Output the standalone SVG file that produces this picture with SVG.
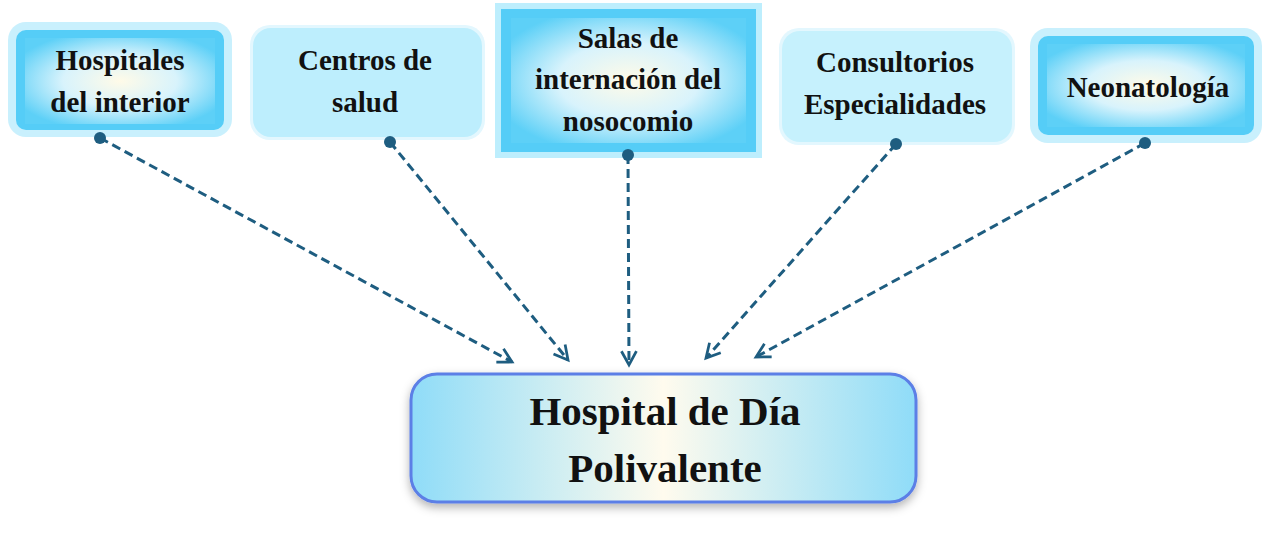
<svg xmlns="http://www.w3.org/2000/svg" width="1271" height="535" viewBox="0 0 1271 535">
<style>
text{font-family:"Liberation Serif","DejaVu Serif",serif;font-weight:bold;fill:#111;text-anchor:middle}
.s{font-size:29px}
.b{font-size:41px}
.c{fill:none;stroke:#1e5d80;stroke-width:3;stroke-dasharray:9 5}
</style>
<defs>
<radialGradient id="g" cx="0.5" cy="0.5" r="0.6">
<stop offset="0" stop-color="#fffbe8"/><stop offset="0.5" stop-color="#d8f3fc"/><stop offset="1" stop-color="#5dd0f7"/>
</radialGradient>
<linearGradient id="gm" x1="0" x2="1" y1="0" y2="0">
<stop offset="0" stop-color="#8fdcf8"/><stop offset="0.5" stop-color="#fffbee"/><stop offset="1" stop-color="#8fdcf8"/>
</linearGradient>
<filter id="sh" x="-10%" y="-10%" width="120%" height="130%"><feDropShadow dx="0" dy="4" stdDeviation="5" flood-color="#000" flood-opacity="0.3"/></filter>
<marker id="a" viewBox="0 0 12 12" refX="11" refY="6" markerWidth="15" markerHeight="15" orient="auto" markerUnits="userSpaceOnUse" overflow="visible">
<path d="M0,0 L11,6 L0,12" fill="none" stroke="#1e5d80" stroke-width="2.2"/>
</marker>
<marker id="d" viewBox="0 0 10 10" refX="5" refY="5" markerWidth="12" markerHeight="12" markerUnits="userSpaceOnUse"><circle cx="5" cy="5" r="5" fill="#1e5d80"/></marker>
</defs>
<g id="n1">
<rect x="8" y="22" width="224" height="115" rx="18" fill="#c9f0fd"/>
<rect x="16" y="30" width="208" height="100" rx="10" fill="#55cdf7"/>
<rect x="25" y="38" width="190" height="86" fill="url(#g)"/>
<text class="s" x="120" y="70">Hospitales</text><text class="s" x="120" y="112">del interior</text>
</g>
<g id="n2">
<rect x="250" y="25" width="235" height="115" rx="20" fill="#e3f7fe"/>
<rect x="253" y="28" width="229" height="109" rx="18" fill="#bdeefd"/>
<text class="s" x="365" y="70">Centros de</text><text class="s" x="365" y="112">salud</text>
</g>
<g id="n3">
<rect x="495" y="3" width="267" height="155" fill="#bdeefd"/>
<rect x="501" y="9" width="255" height="143" fill="#55cdf7"/>
<rect x="511" y="18" width="235" height="125" fill="url(#g)"/>
<text class="s" x="628" y="48">Salas de</text><text class="s" x="628" y="89">internación del</text><text class="s" x="628" y="131">nosocomio</text>
</g>
<g id="n4">
<rect x="779" y="28" width="236" height="117" rx="20" fill="#e3f7fe"/>
<rect x="782" y="31" width="230" height="111" rx="18" fill="#c6f1fd"/>
<text class="s" x="895" y="72">Consultorios</text><text class="s" x="895" y="114">Especialidades</text>
</g>
<g id="n5">
<rect x="1030" y="28" width="232" height="115" rx="18" fill="#c9f0fd"/>
<rect x="1038" y="36" width="216" height="99" rx="10" fill="#55cdf7"/>
<rect x="1047" y="44" width="198" height="83" fill="url(#g)"/>
<text class="s" x="1148" y="97">Neonatología</text>
</g>
<g id="main">
<rect x="411" y="374" width="505" height="128" rx="26" fill="url(#gm)" stroke="#5b7fe6" stroke-width="3" filter="url(#sh)"/>
<text class="b" x="665" y="425">Hospital de Día</text><text class="b" x="665" y="482">Polivalente</text>
</g>
<g id="connectors">
<line class="c" x1="100" y1="138" x2="512" y2="362" marker-start="url(#d)" marker-end="url(#a)"/>
<line class="c" x1="390" y1="142" x2="568" y2="360" marker-start="url(#d)" marker-end="url(#a)"/>
<line class="c" x1="628" y1="155" x2="629" y2="365" marker-start="url(#d)" marker-end="url(#a)"/>
<line class="c" x1="896" y1="144" x2="706" y2="358" marker-start="url(#d)" marker-end="url(#a)"/>
<line class="c" x1="1145" y1="143" x2="756" y2="357" marker-start="url(#d)" marker-end="url(#a)"/>
</g>
</svg>
